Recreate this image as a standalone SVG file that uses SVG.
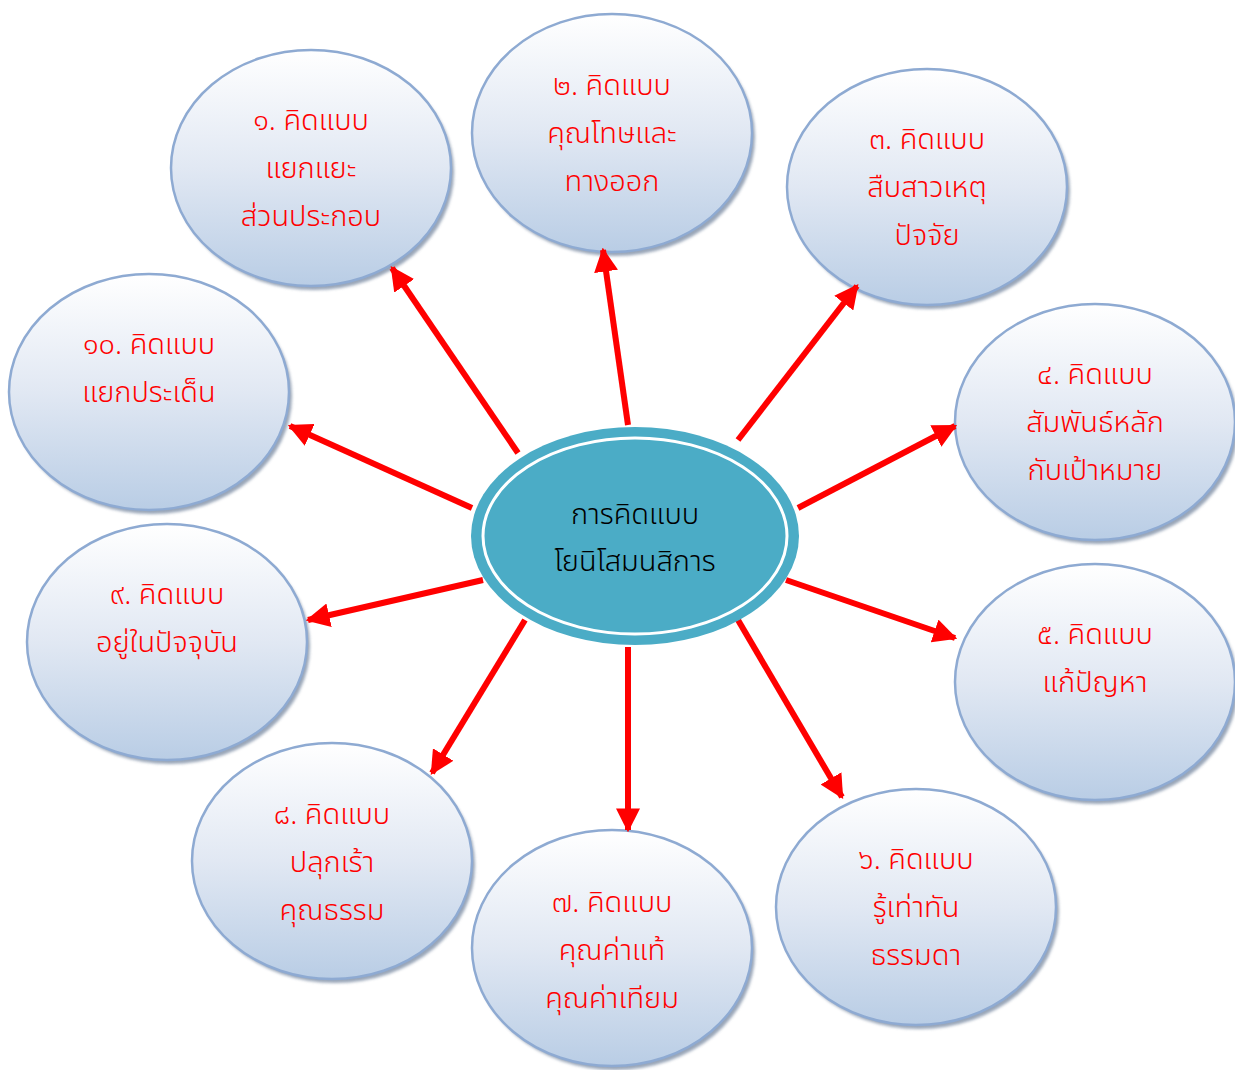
<svg xmlns="http://www.w3.org/2000/svg" width="1235" height="1070" viewBox="0 0 1235 1070">
<defs>
<linearGradient id="g" x1="0" y1="0" x2="0" y2="1">
<stop offset="0" stop-color="#ffffff"/>
<stop offset="0.5" stop-color="#e1e8f3"/>
<stop offset="1" stop-color="#b9cde5"/>
</linearGradient>
<filter id="sh" x="-10%" y="-10%" width="120%" height="120%">
<feGaussianBlur stdDeviation="1.5"/>
</filter>
<marker id="ah" viewBox="0 0 10 10" refX="9" refY="5" markerWidth="4" markerHeight="4" orient="auto" markerUnits="strokeWidth">
<path d="M0,0 L10,5 L0,10 Z" fill="#ff0000"/>
</marker>
</defs>
<style>
.sh{fill:#7f8fa6;filter:url(#sh);opacity:0.8}
.n{fill:url(#g);stroke:#8eaad2;stroke-width:2.5}
.t{font-family:"Noto Sans Thai","Noto Sans","DejaVu Sans",sans-serif;font-size:29px;font-weight:300;fill:#ff0000;text-anchor:middle}
.c{font-family:"Noto Sans Thai","Noto Sans","DejaVu Sans",sans-serif;font-size:29px;font-weight:300;fill:#000000;text-anchor:middle}
.a{stroke:#ff0000;stroke-width:6;fill:none;marker-end:url(#ah)}
</style>
<rect width="1235" height="1070" fill="#ffffff"/>

<g id="n1"><ellipse class="sh" cx="314" cy="172" rx="140" ry="118"/><ellipse class="n" cx="311" cy="168" rx="140" ry="118"/>
<text class="t" x="311" y="130">๑. คิดแบบ</text><text class="t" x="311" y="178">แยกแยะ</text><text class="t" x="311" y="226">ส่วนประกอบ</text></g>

<g id="n2"><ellipse class="sh" cx="615" cy="137" rx="140" ry="119"/><ellipse class="n" cx="612" cy="133" rx="140" ry="119"/>
<text class="t" x="612" y="95">๒. คิดแบบ</text><text class="t" x="612" y="143">คุณโทษและ</text><text class="t" x="612" y="191">ทางออก</text></g>

<g id="n3"><ellipse class="sh" cx="930" cy="191" rx="140" ry="118"/><ellipse class="n" cx="927" cy="187" rx="140" ry="118"/>
<text class="t" x="927" y="149">๓. คิดแบบ</text><text class="t" x="927" y="197">สืบสาวเหตุ</text><text class="t" x="927" y="245">ปัจจัย</text></g>

<g id="n4"><ellipse class="sh" cx="1098" cy="426" rx="140" ry="118"/><ellipse class="n" cx="1095" cy="422" rx="140" ry="118"/>
<text class="t" x="1095" y="384">๔. คิดแบบ</text><text class="t" x="1095" y="432">สัมพันธ์หลัก</text><text class="t" x="1095" y="480">กับเป้าหมาย</text></g>

<g id="n5"><ellipse class="sh" cx="1098" cy="686" rx="140" ry="118"/><ellipse class="n" cx="1095" cy="682" rx="140" ry="118"/>
<text class="t" x="1095" y="644">๕. คิดแบบ</text><text class="t" x="1095" y="692">แก้ปัญหา</text></g>

<g id="n6"><ellipse class="sh" cx="919" cy="911" rx="140" ry="118"/><ellipse class="n" cx="916" cy="907" rx="140" ry="118"/>
<text class="t" x="916" y="869">๖. คิดแบบ</text><text class="t" x="916" y="917">รู้เท่าทัน</text><text class="t" x="916" y="965">ธรรมดา</text></g>

<g id="n7"><ellipse class="sh" cx="615" cy="952" rx="140" ry="118"/><ellipse class="n" cx="612" cy="948" rx="140" ry="118"/>
<text class="t" x="612" y="912">๗. คิดแบบ</text><text class="t" x="612" y="960">คุณค่าแท้</text><text class="t" x="612" y="1008">คุณค่าเทียม</text></g>

<g id="n8"><ellipse class="sh" cx="335" cy="865" rx="140" ry="118"/><ellipse class="n" cx="332" cy="861" rx="140" ry="118"/>
<text class="t" x="332" y="824">๘. คิดแบบ</text><text class="t" x="332" y="872">ปลุกเร้า</text><text class="t" x="332" y="920">คุณธรรม</text></g>

<g id="n9"><ellipse class="sh" cx="170" cy="646" rx="140" ry="118"/><ellipse class="n" cx="167" cy="642" rx="140" ry="118"/>
<text class="t" x="167" y="604">๙. คิดแบบ</text><text class="t" x="167" y="652">อยู่ในปัจจุบัน</text></g>

<g id="n10"><ellipse class="sh" cx="152" cy="396" rx="140" ry="118"/><ellipse class="n" cx="149" cy="392" rx="140" ry="118"/>
<text class="t" x="149" y="354">๑๐. คิดแบบ</text><text class="t" x="149" y="402">แยกประเด็น</text></g>

<g id="connectors">
<line class="a" x1="518" y1="453" x2="392" y2="268"/>
<line class="a" x1="628" y1="425" x2="603" y2="250"/>
<line class="a" x1="738" y1="440" x2="857" y2="286"/>
<line class="a" x1="798" y1="508" x2="955" y2="426"/>
<line class="a" x1="786" y1="580" x2="955" y2="638"/>
<line class="a" x1="738" y1="620" x2="842" y2="797"/>
<line class="a" x1="628" y1="647" x2="628" y2="830"/>
<line class="a" x1="525" y1="620" x2="432" y2="773"/>
<line class="a" x1="483" y1="580" x2="308" y2="620"/>
<line class="a" x1="472" y1="508" x2="290" y2="426"/>
</g>

<g id="center">
<ellipse cx="635" cy="536" rx="164" ry="109" fill="#4bacc6"/>
<ellipse cx="635" cy="536" rx="152" ry="98" fill="none" stroke="#ffffff" stroke-width="3"/>
<text class="c" x="635" y="524">การคิดแบบ</text>
<text class="c" x="635" y="571">โยนิโสมนสิการ</text>
</g>
</svg>
